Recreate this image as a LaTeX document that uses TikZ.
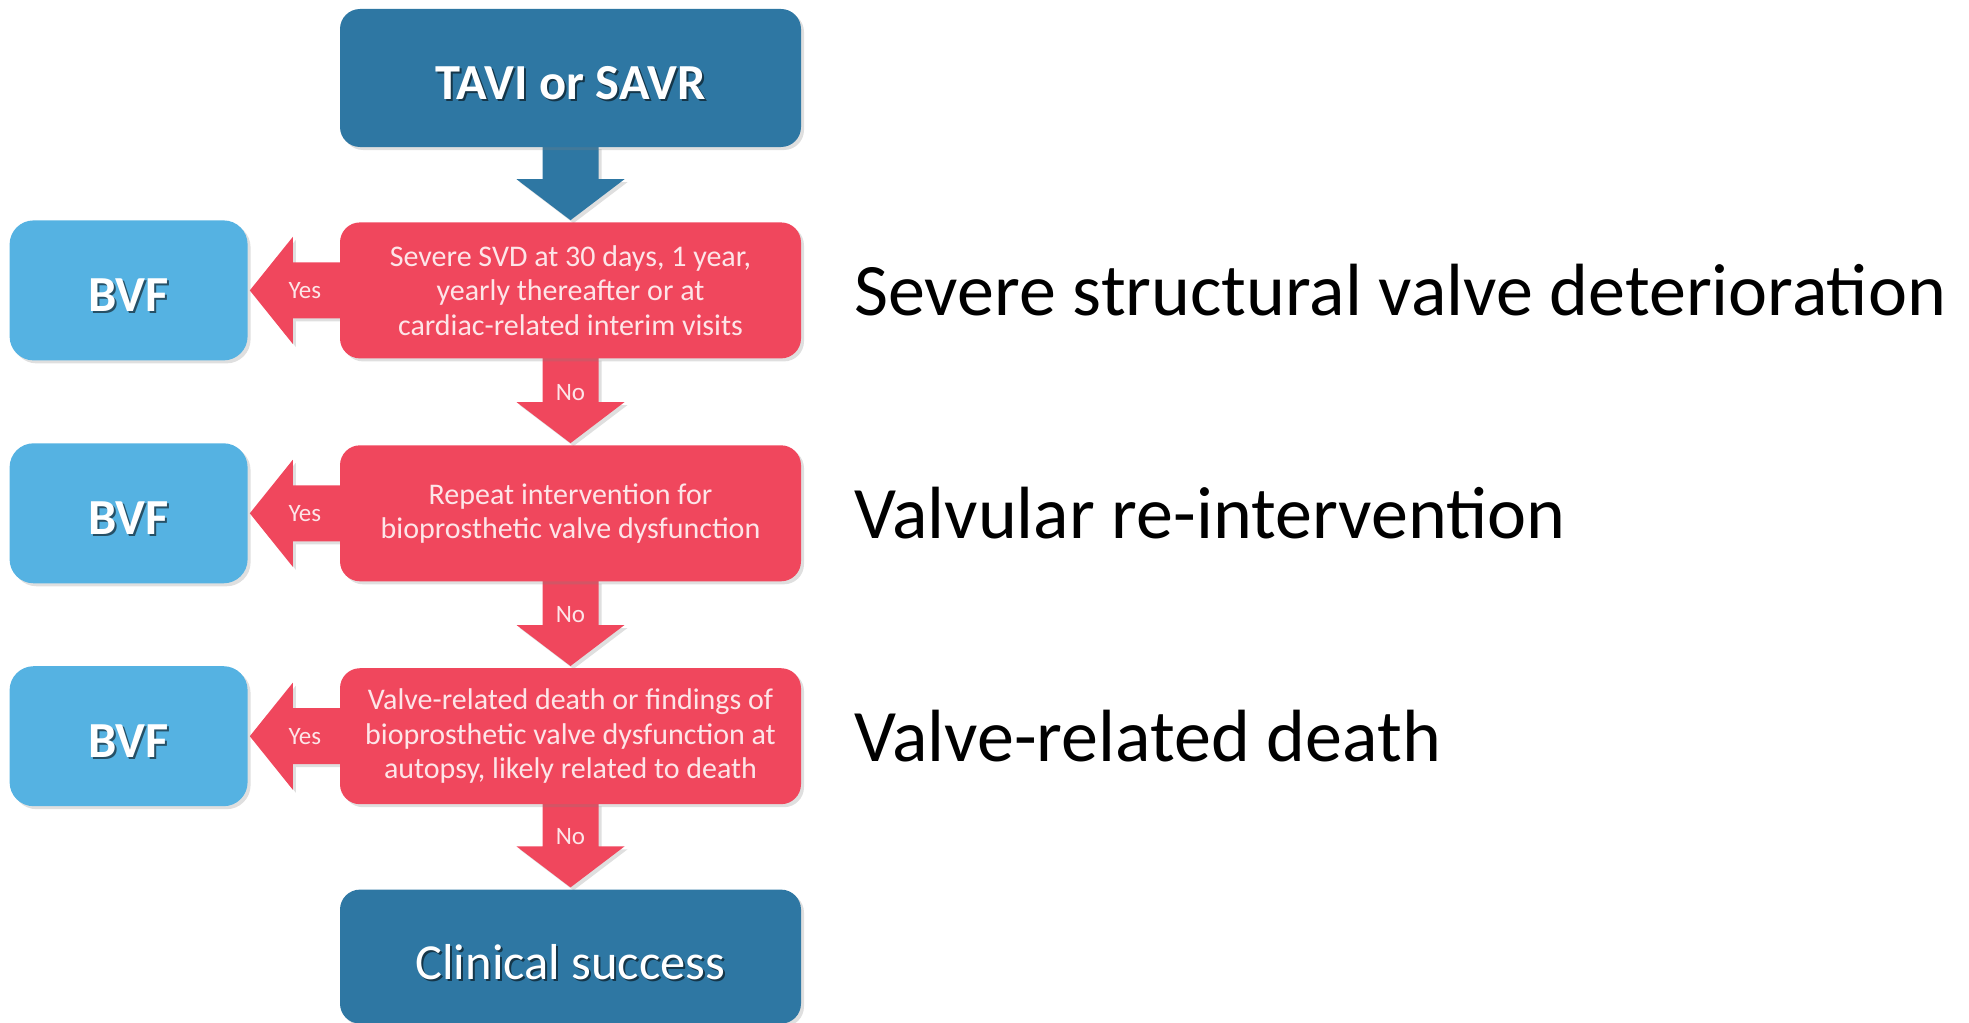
\documentclass[tikz,border=0pt]{standalone}
\usepackage{fontspec}
\setmainfont{Carlito}
\usepackage{tikz}
\usetikzlibrary{positioning}
\usetikzlibrary{calc,shadows,backgrounds}
\definecolor{tavblue}{RGB}{46,119,163}
\definecolor{svdred}{RGB}{240,71,93}
\definecolor{bvfblue}{RGB}{85,178,226}
\newcommand{\shtext}[2]{\makebox[0pt][l]{\hspace{2pt}\raisebox{-2pt}{\textcolor{#1}{#2}}}#2}

\begin{document}
\begin{tikzpicture}[x=1pt, y=1pt,
    boxshadow/.style={drop shadow={opacity=0.25, shadow xshift=3pt, shadow yshift=-3pt}},
    check/.style={fill=svdred, minimum height=136pt, text=white!86!svdred,
        font=\fontsize{30}{34.5}\selectfont},
    endbox/.style={fill=tavblue, minimum height=134pt, text=white, text height=43pt, text depth=0pt},
    bvf/.style={fill=bvfblue, minimum width=238pt, minimum height=140pt, text=white,
        rounded corners=24pt, font=\fontsize{50.5}{60}\selectfont\bfseries,
        text height=43pt, text depth=0pt},
    answer/.style={text=white!86!svdred, font=\fontsize{25}{30}\selectfont},
    remark/.style={font=\fontsize{74}{89}\selectfont, inner sep=0pt}]
	\useasboundingbox (0,0) rectangle (1969,-1022);

	\begin{scope}[every node/.style={rounded corners=20pt, inner sep=0pt, align=center,
	              minimum width=461pt, boxshadow}, node distance=86.5pt]
	    \node (top) [endbox, minimum height=138pt, font=\fontsize{50.5}{60}\selectfont\bfseries]
	        at (570.5,-78) {\shtext{tavblue!45!black}{TAVI or SAVR}};
	    \node (r1) [check, below=75pt of top] {Severe SVD at 30 days, 1 year,\\yearly thereafter or at\\cardiac-related interim visits};
	    \node (r2) [check, below=of r1] {Repeat intervention for\\bioprosthetic valve dysfunction};
	    \node (r3) [check, below=of r2] {Valve-related death or findings of\\bioprosthetic valve dysfunction at\\autopsy, likely related to death};
	    \node (clin) [endbox, below=85pt of r3, text height=45pt, font=\fontsize{50.5}{60}\selectfont]
	        {\shtext{tavblue!45!black}{Clinical success}};
	    \node (b1) [bvf, left=92pt of r1] {\shtext{bvfblue!45!black}{BVF}};
	    \node (b2) [bvf, left=92pt of r2] {\shtext{bvfblue!45!black}{BVF}};
	    \node (b3) [bvf, left=92pt of r3] {\shtext{bvfblue!45!black}{BVF}};
	\end{scope}

	% definitions on the right
	\node (t1) [remark, right=53pt of r1] {Severe structural valve deterioration};
	\node (t2) [remark, right=53pt of r2] {Valvular re-intervention};
	\node (t3) [remark, right=53pt of r3] {Valve-related death};

	% block arrows
	\begin{scope}[on background layer]
	    \foreach \a/\b/\c/\t in {top/r1/tavblue/{}, r1/r2/svdred/No, r2/r3/svdred/No, r3/clin/svdred/No} {
	        \fill[\c, boxshadow] ($(\a.south)+(-28,1)$) -- ($(\b.north)+(-28,43)$)
	            -- ($(\b.north)+(-54,43)$) -- ($(\b.north)+(0,2)$) -- ($(\b.north)+(54,43)$)
	            -- ($(\b.north)+(28,43)$) -- ($(\a.south)+(28,1)$) -- cycle;
	        \node (n\b) [answer] at ($(\b.north)+(0,53)$) {\t};
	    }
	    \foreach \i in {1,2,3} {
	        \fill[svdred, boxshadow] ($(r\i.west)+(1,28)$) -- ($(b\i.east)+(45,28)$)
	            -- ($(b\i.east)+(45,53.5)$) -- ($(b\i.east)+(2,0)$) -- ($(b\i.east)+(45,-53.5)$)
	            -- ($(b\i.east)+(45,-28)$) -- ($(r\i.west)+(1,-28)$) -- cycle;
	        \node (y\i) [answer] at ($(b\i.east)+(57,0)$) {Yes};
	    }
	\end{scope}
\end{tikzpicture}
\end{document}
